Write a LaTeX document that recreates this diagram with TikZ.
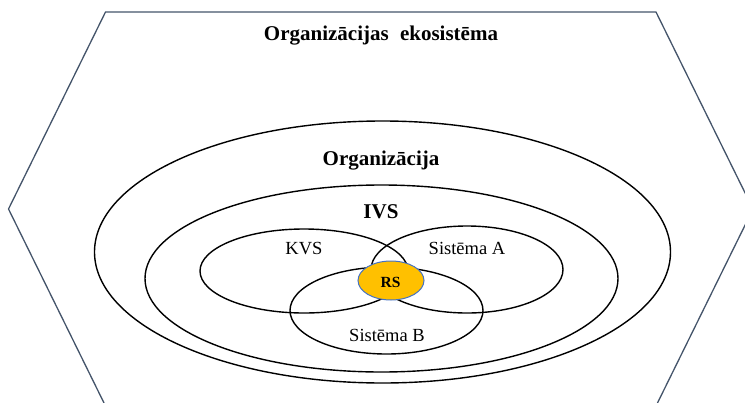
\documentclass[tikz,border=0pt]{standalone}
\usepackage{fontspec}
\setmainfont{Liberation Serif}
\usetikzlibrary{shapes.geometric}
\definecolor{hexgray}{HTML}{44546A}
\definecolor{rsorange}{HTML}{FFC000}
\definecolor{rsblue}{HTML}{4472C4}
\tikzset{
  oval/.style={ellipse, draw, line width=1.4pt, inner sep=0pt},
  boldlabel/.style={anchor=base, font=\fontsize{21}{24}\selectfont\bfseries},
  syslabel/.style={anchor=base, font=\fontsize{18.5}{22}\selectfont}
}
\begin{document}
\begin{tikzpicture}[x=1pt,y=-1pt]
\useasboundingbox (0,0) rectangle (745,402);
\coordinate (H1) at (105.5,12);
\coordinate (H2) at (656,12);
\coordinate (H3) at (753,209);
\coordinate (H4) at (656,406);
\coordinate (H5) at (105.5,406);
\coordinate (H6) at (8.5,209);
\draw[hexgray, line width=1.3pt](H1)--(H2)--(H3)--(H4)--(H5)--(H6)--cycle;

\node[oval, minimum width=576pt, minimum height=262pt] (org) at (382.5,252) {};
\node[oval, minimum width=473pt, minimum height=187pt] (ivs) at (381.5,278.5) {};
\node[oval, minimum width=208pt, minimum height=84pt] (kvs) at (304,271) {};
\node[oval, minimum width=192pt, minimum height=87pt] (sisA) at (467,269.5) {};
\node[oval, minimum width=193pt, minimum height=87pt] (sisB) at (386.5,310.5) {};
\node[ellipse, draw=rsblue, fill=rsorange, line width=1pt, minimum width=66pt, minimum height=39pt, inner sep=0pt] (rs) at (391,280.5) {};

\node[boldlabel] (ekoText) at (381,40.5) {Organizācijas\hspace{6pt} ekosistēma};
\node[boldlabel] (orgText) at (381,165) {Organizācija};
\node[boldlabel] (ivsText) at (381,218.5) {IVS};
\node[syslabel] (kvsText) at (304,254.5) {KVS};
\node[syslabel] (sisAText) at (467,254) {Sistēma A};
\node[syslabel] (sisBText) at (387,341) {Sistēma B};
\node[anchor=base, font=\fontsize{15.5}{18}\selectfont\bfseries] (rsText) at (390.5,287) {RS};
\end{tikzpicture}
\end{document}
